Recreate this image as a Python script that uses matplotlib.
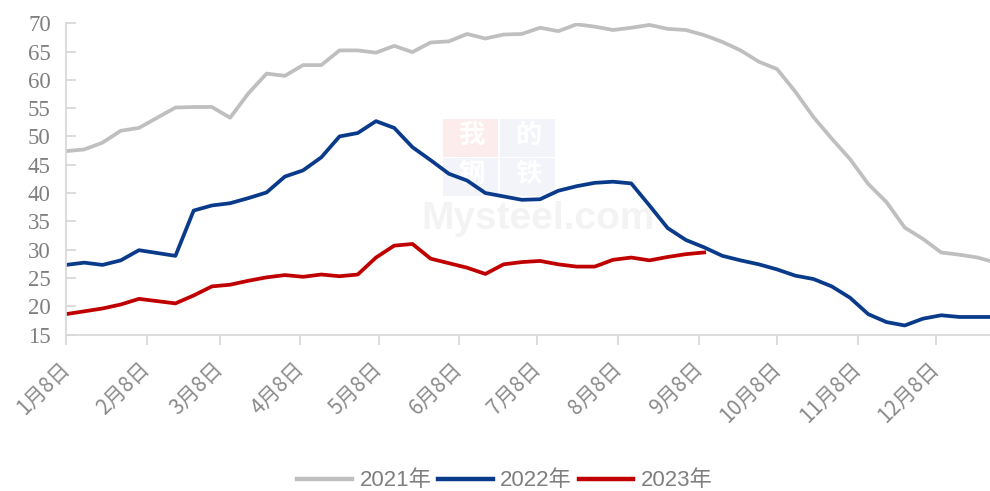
import matplotlib
matplotlib.use("Agg")
import matplotlib.pyplot as plt
from matplotlib import font_manager
from matplotlib.patches import Rectangle
import pandas as pd

# Weekly series, first observation on 8 January, plotted on a common calendar year
week_start = "2023-01-08"

y2021 = [47.4, 47.7, 48.9, 51.0, 51.5, 53.3, 55.1, 55.2, 55.2, 53.3,
         57.6, 61.1, 60.7, 62.6, 62.6, 65.2, 65.2, 64.8, 66.0, 64.9,
         66.6, 66.8, 68.1, 67.3, 68.0, 68.1, 69.2, 68.6, 69.8, 69.4,
         68.8, 69.2, 69.7, 69.0, 68.8, 67.9, 66.7, 65.2, 63.2, 61.9,
         57.9, 53.4, 49.6, 46.0, 41.6, 38.4, 33.9, 31.9, 29.5, 29.1,
         28.6, 27.7]

y2022 = [27.3, 27.7, 27.3, 28.1, 29.9, 29.4, 28.9, 36.9, 37.8, 38.2,
         39.1, 40.1, 42.9, 44.0, 46.3, 50.0, 50.6, 52.7, 51.5, 48.1,
         45.8, 43.4, 42.2, 40.0, 39.4, 38.8, 38.9, 40.4, 41.2, 41.8,
         42.0, 41.7, 37.8, 33.8, 31.7, 30.4, 28.9, 28.1, 27.4, 26.5,
         25.4, 24.8, 23.5, 21.5, 18.6, 17.2, 16.6, 17.8, 18.4, 18.1,
         18.1, 18.1]

y2023 = [18.6, 19.1, 19.6, 20.3, 21.3, 20.9, 20.5, 21.9, 23.5, 23.8,
         24.5, 25.1, 25.5, 25.2, 25.6, 25.3, 25.6, 28.6, 30.7, 31.0,
         28.4, 27.6, 26.8, 25.7, 27.4, 27.8, 28.0, 27.4, 27.0, 27.0,
         28.2, 28.6, 28.1, 28.7, 29.2, 29.5]

series_names = ["2021年", "2022年", "2023年"]
series_colors = ["#BFBFBF", "#0A3A8A", "#C00000"]

y_ticks = [15, 20, 25, 30, 35, 40, 45, 50, 55, 60, 65, 70]
months = list(range(1, 13))
month_ticks = [pd.Timestamp(2023, m, 8) for m in months]
month_labels = [f"{m}月8日" for m in months]

dates = pd.date_range(week_start, periods=len(y2021), freq="7D")

text_gray = "#7F7F7F"
label_gray = "#8A8A8A"
axis_gray = "#D9D9D9"


def available(families):
    """Keep only the font families that are installed."""
    found = []
    for fam in families:
        try:
            font_manager.findfont(font_manager.FontProperties(family=fam),
                                  fallback_to_default=False)
            found.append(fam)
        except ValueError:
            pass
    return found


legend_fonts = available(["Liberation Sans Narrow", "Liberation Sans"])[:1] + ["Noto Sans CJK SC"]

fig = plt.figure(figsize=(9.9, 4.91), dpi=100)
ax = fig.add_axes([0.0667, 0.3187, 0.9333, 0.634])
ax.set_zorder(2)
ax.patch.set_alpha(0)

# Faint publisher watermark behind the data
wm_cells = [("我", 0.0, 0.0, "#FCECEC"), ("的", 1.0, 0.0, "#F2F4F9"),
            ("钢", 0.0, 1.0, "#F2F4F9"), ("铁", 1.0, 1.0, "#F2F4F9")]
cell_w, cell_h = 57 / 990, 39 / 491
x0, y0 = 443 / 990, 1 - 118 / 491
for ch, cx, cy, bg in wm_cells:
    left = x0 + cx * cell_w
    top = y0 - cy * cell_h
    fig.patches.append(Rectangle((left, top - cell_h), cell_w - 0.002, cell_h - 0.003,
                                 transform=fig.transFigure, facecolor=bg,
                                 edgecolor="none", zorder=0))
    fig.text(left + cell_w / 2, top - cell_h / 2 + 0.004, ch, transform=fig.transFigure,
             ha="center", va="center", fontsize=19, fontweight="bold",
             family=["Noto Sans CJK SC"], color="#FFFFFF", zorder=0.5)
fig.text(538 / 990, 1 - 229 / 491, "Mysteel.com", transform=fig.transFigure,
         ha="center", va="baseline", fontsize=28, fontweight="bold",
         family=["Liberation Sans"], color="#F3F3F3", zorder=0.5)

ax.plot(dates, y2021, color=series_colors[0], lw=2.7, label=series_names[0],
        solid_joinstyle="round")
ax.plot(dates, y2022, color=series_colors[1], lw=2.7, label=series_names[1],
        solid_joinstyle="round")
ax.plot(dates[:len(y2023)], y2023, color=series_colors[2], lw=2.7, label=series_names[2],
        solid_joinstyle="round")

ax.set_ylim(15, 70)
ax.set_yticks(y_ticks)
ax.set_xlim(pd.Timestamp("2023-01-08"), pd.Timestamp("2023-12-28 18:00"))
ax.set_xticks(month_ticks)
ax.set_xticklabels(month_labels, rotation=45, ha="right", va="center",
                   rotation_mode="anchor", fontsize=15,
                   family=["Noto Sans CJK SC"], color=label_gray)
for lab in ax.get_yticklabels():
    lab.set_family(["Liberation Serif"])
    lab.set_fontsize(16.5)
    lab.set_color(text_gray)

for side in ("top", "right"):
    ax.spines[side].set_visible(False)
for side in ("left", "bottom"):
    ax.spines[side].set_color(axis_gray)
    ax.spines[side].set_linewidth(1.3)

ax.tick_params(axis="y", direction="in", length=7, width=1.3, color=axis_gray, pad=11)
ax.tick_params(axis="x", direction="out", length=7, width=1.3, color=axis_gray, pad=15)

leg = fig.legend(loc="center", bbox_to_anchor=(505 / 990, 1 - 481 / 491), ncol=3,
                 frameon=False, handlelength=2.45, handletextpad=0.35, columnspacing=0.3,
                 borderaxespad=0, borderpad=0,
                 prop={"family": legend_fonts, "size": 16})
for t in leg.get_texts():
    t.set_color(text_gray)
for h in leg.get_lines():
    h.set_linewidth(3.2)

fig.savefig("out.png", dpi=100)
